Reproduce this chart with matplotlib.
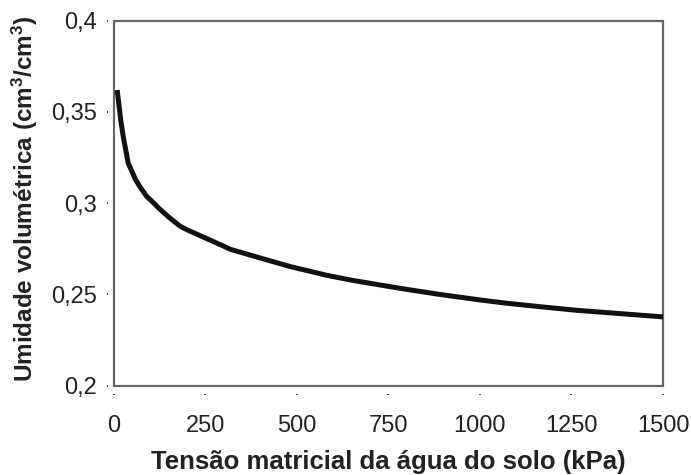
import matplotlib
matplotlib.use('Agg')
import matplotlib.pyplot as plt
from matplotlib.patches import Rectangle

plt.rcParams['font.family'] = ['Liberation Sans', 'DejaVu Sans']
plt.rcParams['mathtext.fontset'] = 'custom'
plt.rcParams['mathtext.rm'] = 'Liberation Sans:bold'
plt.rcParams['mathtext.default'] = 'rm'

# curva de retencao
tensao = [10, 20, 27, 40, 60, 72, 91, 100, 125, 150, 181, 200, 250, 300,
          318, 400, 482, 582, 650, 727, 800, 891, 1000, 1073, 1164, 1265,
          1383, 1500]
umidade = [0.362, 0.345, 0.336, 0.322, 0.313, 0.309, 0.3036, 0.302, 0.297,
           0.2925, 0.2875, 0.2855, 0.281, 0.2765, 0.2748, 0.2700, 0.2653,
           0.2605, 0.2578, 0.2552, 0.2528, 0.2500, 0.2470, 0.2452, 0.2433,
           0.2413, 0.2395, 0.2377]

x_ticks = [0, 250, 500, 750, 1000, 1250, 1500]
y_ticks = [0.2, 0.25, 0.3, 0.35, 0.4]
y_labels = ['0,2', '0,25', '0,3', '0,35', '0,4']

fig = plt.figure(figsize=(6.91, 4.75), dpi=100)
ax = fig.add_axes([0.1643, 0.188, 0.7952, 0.7684])

ax.plot(tensao, umidade, color='#111111', linewidth=3.6, solid_capstyle='butt')

ax.set_xlim(0, 1500)
ax.set_ylim(0.2, 0.4)
ax.set_xticks(x_ticks)
ax.set_xticklabels([str(v) for v in x_ticks])
ax.set_yticks(y_ticks)
ax.set_yticklabels(y_labels)

# ticks as small dots away from the frame, like the original
for side in ['top', 'right']:
    ax.spines[side].set_visible(False)
ax.spines['left'].set_position(('outward', 4.2))
ax.spines['bottom'].set_position(('outward', 6))
ax.spines['left'].set_color('none')
ax.spines['bottom'].set_color('none')
ax.tick_params(axis='both', length=1, width=1.2, color='#222222',
               labelsize=17, labelcolor='#222222')
ax.tick_params(axis='x', pad=14.3)
ax.tick_params(axis='y', pad=7)

frame = Rectangle((0, 0), 1, 1, transform=ax.transAxes, fill=False,
                  edgecolor='#666666', linewidth=1.6, clip_on=False)
ax.add_patch(frame)

ax.set_xlabel('Tensão matricial da água do solo (kPa)', fontsize=18.5,
              fontweight='bold', color='#222222', labelpad=9)
ax.set_ylabel('Umidade volumétrica (cm$^3$/cm$^3$)', fontsize=17.5,
              fontweight='bold', color='#222222')
ax.yaxis.set_label_coords(-0.134, 0.511)

fig.savefig('out.png', dpi=100)
